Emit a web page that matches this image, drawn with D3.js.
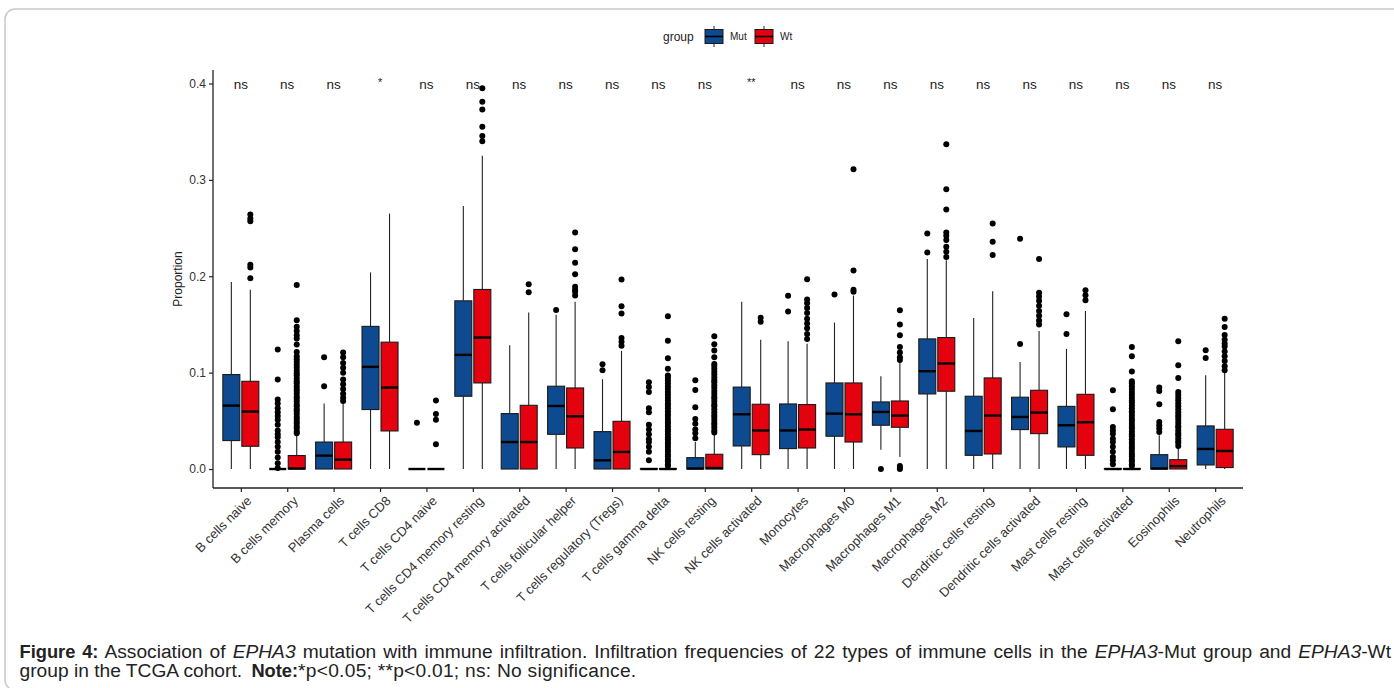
<!DOCTYPE html>
<html>
<head>
<meta charset="utf-8">
<script src="https://cdn.jsdelivr.net/npm/d3@7"></script>
<style>
  body { margin: 0; background: #fff; }
  svg { display: block; font-family: "Liberation Sans", Arial, sans-serif; }
</style>
</head>
<body>
<div id="chart"></div>
<script>
// immune cell types (x axis)
var cells = ["B cells naive", "B cells memory", "Plasma cells", "T cells CD8", "T cells CD4 naive",
  "T cells CD4 memory resting", "T cells CD4 memory activated", "T cells follicular helper",
  "T cells regulatory (Tregs)", "T cells gamma delta", "NK cells resting", "NK cells activated",
  "Monocytes", "Macrophages M0", "Macrophages M1", "Macrophages M2", "Dendritic cells resting",
  "Dendritic cells activated", "Mast cells resting", "Mast cells activated", "Eosinophils", "Neutrophils"];

// significance labels
var sig = ["ns", "ns", "ns", "*", "ns", "ns", "ns", "ns", "ns", "ns", "ns", "**",
  "ns", "ns", "ns", "ns", "ns", "ns", "ns", "ns", "ns", "ns"];

var groups = ["Mut", "Wt"];
var yTicks = [0, 0.1, 0.2, 0.3, 0.4];

// box stats: [lower whisker, q1, median, q3, upper whisker]
var mutStats = [
  [0, 0.0295, 0.0658, 0.098, 0.194],
  [0, 0, 0, 0, 0],
  [0, 0, 0.0139, 0.028, 0.068],
  [0, 0.0617, 0.106, 0.148, 0.204],
  [0, 0, 0, 0, 0],
  [0, 0.0755, 0.1184, 0.1745, 0.273],
  [0, 0, 0.028, 0.0575, 0.1284],
  [0, 0.036, 0.0654, 0.0859, 0.160],
  [0, 0, 0.009, 0.0388, 0.0932],
  [0, 0, 0, 0.0005, 0.001],
  [0, 0, 0.0005, 0.0118, 0.028],
  [0, 0.0239, 0.0568, 0.085, 0.1735],
  [0, 0.0212, 0.040, 0.0675, 0.1326],
  [0, 0.034, 0.0575, 0.0893, 0.152],
  [0.020, 0.0454, 0.0592, 0.0696, 0.0963],
  [0, 0.0779, 0.1015, 0.135, 0.2178],
  [0, 0.0142, 0.0395, 0.0755, 0.1568],
  [0, 0.0409, 0.054, 0.0745, 0.111],
  [0, 0.0229, 0.0454, 0.065, 0.1246],
  [0, 0, 0, 0.0005, 0.001],
  [0, 0, 0.0005, 0.0149, 0.035],
  [0, 0.0042, 0.0208, 0.0447, 0.0973]
];

var wtStats = [
  [0, 0.0236, 0.0596, 0.091, 0.186],
  [0, 0, 0.0005, 0.014, 0.035],
  [0, 0, 0.0097, 0.028, 0.068],
  [0, 0.0395, 0.0845, 0.1316, 0.265],
  [0, 0, 0, 0, 0],
  [0, 0.0893, 0.1364, 0.1863, 0.325],
  [0, 0, 0.028, 0.0661, 0.1624],
  [0, 0.0218, 0.0547, 0.0841, 0.1735],
  [0, 0, 0.0177, 0.0495, 0.1226],
  [0, 0, 0, 0.0005, 0.001],
  [0, 0, 0.001, 0.0153, 0.0367],
  [0, 0.0149, 0.040, 0.0672, 0.134],
  [0, 0.0218, 0.0409, 0.0669, 0.130],
  [0, 0.028, 0.0568, 0.0893, 0.180],
  [0.0125, 0.0433, 0.0554, 0.0706, 0.111],
  [0, 0.0807, 0.1094, 0.1364, 0.2167],
  [0, 0.0156, 0.0554, 0.0945, 0.1845],
  [0, 0.0367, 0.0586, 0.0817, 0.1433],
  [0, 0.0142, 0.0485, 0.0775, 0.164],
  [0, 0, 0, 0.0005, 0.001],
  [0, 0, 0.003, 0.0097, 0.022],
  [0, 0.0015, 0.0187, 0.0412, 0.1007]
];

// outliers
var mutOut = [
  [],
  [0.124, 0.093, 0.072, 0.068, 0.063, 0.059, 0.055, 0.051, 0.046, 0.040, 0.036, 0.033, 0.028, 0.023, 0.018, 0.012, 0.006, 0.001],
  [0.086, 0.116],
  [],
  [0.048],
  [],
  [],
  [0.165],
  [0.1087, 0.1025],
  [0.090, 0.085, 0.080, 0.063, 0.059, 0.046, 0.041, 0.036, 0.031, 0.028, 0.023, 0.018, 0.009],
  [0.032, 0.037, 0.041, 0.047, 0.052, 0.064, 0.082, 0.092],
  [],
  [0.1797, 0.1634],
  [0.181],
  [0.0],
  [0.2444, 0.2247],
  [],
  [0.2389, 0.1298],
  [0.1607, 0.140],
  [0.0817, 0.062, 0.0437, 0.040, 0.0367, 0.0315, 0.028, 0.023, 0.018, 0.0125, 0.009, 0.005],
  [0.0845, 0.081, 0.0672, 0.0488, 0.0454, 0.042, 0.0385],
  [0.1233, 0.1153]
];

var wtOut = [
  [0.264, 0.260, 0.257, 0.212, 0.209, 0.198],
  [0.037, 0.039, 0.042, 0.044, 0.047, 0.049, 0.052, 0.054, 0.057, 0.060, 0.062, 0.065, 0.067, 0.070, 0.073,
   0.075, 0.078, 0.081, 0.083, 0.086, 0.089, 0.091, 0.094, 0.097, 0.099, 0.102, 0.105, 0.108, 0.111, 0.114,
   0.117, 0.1215, 0.1292, 0.1354, 0.1388, 0.1433, 0.1475, 0.1544, 0.191],
  [0.0705, 0.074, 0.078, 0.083, 0.088, 0.093, 0.100, 0.105, 0.110, 0.116, 0.121],
  [],
  [0.071, 0.057, 0.051, 0.0256],
  [0.395, 0.381, 0.373, 0.355, 0.3455, 0.340],
  [0.1918, 0.1835],
  [0.2455, 0.228, 0.214, 0.202, 0.189, 0.186, 0.184, 0.180],
  [0.1966, 0.169, 0.1614, 0.136, 0.132, 0.128],
  [0.003, 0.005, 0.008, 0.010, 0.013, 0.015, 0.018, 0.020, 0.023, 0.026, 0.028, 0.031, 0.033, 0.036, 0.039,
   0.041, 0.044, 0.047, 0.049, 0.052, 0.055, 0.057, 0.060, 0.063, 0.066, 0.068, 0.071, 0.074, 0.077, 0.080,
   0.083, 0.086, 0.089, 0.092, 0.095, 0.097, 0.104, 0.115, 0.133, 0.1586],
  [0.038, 0.040, 0.043, 0.046, 0.048, 0.051, 0.054, 0.056, 0.059, 0.062, 0.065, 0.067, 0.070, 0.073, 0.075,
   0.078, 0.081, 0.084, 0.087, 0.090, 0.092, 0.095, 0.098, 0.101, 0.104, 0.107, 0.109, 0.116, 0.123, 0.1295, 0.1378],
  [0.157, 0.1527],
  [0.197, 0.176, 0.172, 0.167, 0.162, 0.156, 0.151, 0.146, 0.140, 0.135],
  [0.184, 0.186, 0.206, 0.311],
  [0.003, 0.001, 0.0, 0.1648, 0.150, 0.1388, 0.1267, 0.121, 0.116, 0.113],
  [0.337, 0.2904, 0.2693, 0.2455, 0.242, 0.2375, 0.2306, 0.2254, 0.220],
  [0.2548, 0.2357, 0.222],
  [0.2178, 0.183, 0.179, 0.1747, 0.1695, 0.164, 0.159, 0.154, 0.150],
  [0.1856, 0.1804, 0.175],
  [0.003, 0.005, 0.008, 0.010, 0.013, 0.015, 0.018, 0.021, 0.023, 0.026, 0.028, 0.031, 0.034, 0.036, 0.039,
   0.042, 0.044, 0.047, 0.050, 0.052, 0.055, 0.058, 0.060, 0.063, 0.066, 0.069, 0.071, 0.074, 0.077, 0.080,
   0.083, 0.086, 0.089, 0.091, 0.1013, 0.117, 0.1267],
  [0.024, 0.027, 0.029, 0.032, 0.035, 0.037, 0.040, 0.043, 0.045, 0.048, 0.051, 0.054, 0.056, 0.059, 0.062,
   0.065, 0.068, 0.071, 0.074, 0.077, 0.080, 0.0945, 0.1077, 0.1326],
  [0.156, 0.1474, 0.139, 0.134, 0.1303, 0.127, 0.122, 0.117, 0.112, 0.1065, 0.1025]
];

// canvas
var W = 1394, H = 688;
var plot = { left: 213, right: 1243, top: 70, bottom: 488 };
var color = d3.scaleOrdinal().domain(groups).range(["#0d4a8f", "#e3020e"]);

var svg = d3.select("#chart").append("svg")
  .attr("width", W)
  .attr("height", H);

// figure frame
svg.append("rect")
  .attr("x", 5).attr("y", 9)
  .attr("width", W + 20).attr("height", 681)
  .attr("rx", 10)
  .attr("fill", "none")
  .attr("stroke", "#c9c9c9")
  .attr("stroke-width", 1.5);

var x = d3.scalePoint()
  .domain(cells)
  .range([plot.left, plot.right])
  .padding(0.6);

var y = d3.scaleLinear()
  .domain([-0.0197, 0.414])
  .range([plot.bottom, plot.top]);

var dodge = { Mut: -9.5, Wt: 9.5 };
var boxW = 17;

// axes
var yAxis = svg.append("g")
  .attr("transform", "translate(" + plot.left + ",0)")
  .call(d3.axisLeft(y).tickValues(yTicks).tickFormat(d3.format(".1f")).tickSize(4).tickPadding(3));
var xAxis = svg.append("g")
  .attr("transform", "translate(0," + plot.bottom + ")")
  .call(d3.axisBottom(x).tickSize(4).tickFormat(""));

[yAxis, xAxis].forEach(function(a) {
  a.select(".domain").attr("stroke", "#222").attr("stroke-width", 1.3);
  a.selectAll(".tick line").attr("stroke", "#222").attr("stroke-width", 1.2);
});
yAxis.select(".domain").attr("d", "M0," + plot.top + "V" + plot.bottom);
xAxis.select(".domain").attr("d", "M" + plot.left + ",0H" + plot.right);
yAxis.selectAll(".tick text")
  .attr("font-size", 12)
  .attr("fill", "#333")
  .attr("font-family", "Liberation Sans, Arial, sans-serif");

// x labels
svg.append("g").selectAll("text")
  .data(cells)
  .enter().append("text")
  .attr("transform", function(d) { return "translate(" + (x(d) + 5) + "," + (plot.bottom + 7) + ") rotate(-45)"; })
  .attr("text-anchor", "end")
  .attr("dy", "0.71em")
  .attr("font-size", 13)
  .attr("fill", "#333")
  .text(function(d) { return d; });

// y title
svg.append("text")
  .attr("transform", "translate(182," + ((plot.top + plot.bottom) / 2) + ") rotate(-90)")
  .attr("text-anchor", "middle")
  .attr("font-size", 12)
  .attr("fill", "#222")
  .text("Proportion");

// build box data
var boxes = [];
cells.forEach(function(c, i) {
  boxes.push({ cell: c, group: "Mut", s: mutStats[i], out: mutOut[i] });
  boxes.push({ cell: c, group: "Wt", s: wtStats[i], out: wtOut[i] });
});

var bx = function(d) { return x(d.cell) + dodge[d.group]; };

var g = svg.append("g").selectAll(".box")
  .data(boxes)
  .enter().append("g")
  .attr("class", "box");

// whiskers
g.append("line")
  .attr("x1", bx).attr("x2", bx)
  .attr("y1", function(d) { return y(d.s[4]); })
  .attr("y2", function(d) { return y(d.s[3]); })
  .attr("stroke", "#222").attr("stroke-width", 1.1);
g.append("line")
  .attr("x1", bx).attr("x2", bx)
  .attr("y1", function(d) { return y(d.s[1]); })
  .attr("y2", function(d) { return y(d.s[0]); })
  .attr("stroke", "#222").attr("stroke-width", 1.1);

// boxes
g.append("rect")
  .attr("x", function(d) { return bx(d) - boxW / 2; })
  .attr("width", boxW)
  .attr("y", function(d) { return y(d.s[3]); })
  .attr("height", function(d) { return y(d.s[1]) - y(d.s[3]); })
  .attr("fill", function(d) { return color(d.group); })
  .attr("stroke", "#1a1a1a")
  .attr("stroke-width", 1.1);

// medians
g.append("line")
  .attr("x1", function(d) { return bx(d) - boxW / 2; })
  .attr("x2", function(d) { return bx(d) + boxW / 2; })
  .attr("y1", function(d) { return y(d.s[2]); })
  .attr("y2", function(d) { return y(d.s[2]); })
  .attr("stroke", "#000").attr("stroke-width", 2.4);

// outliers
g.selectAll("circle")
  .data(function(d) { return d.out.map(function(v) { return { v: v, px: bx(d) }; }); })
  .enter().append("circle")
  .attr("cx", function(d) { return d.px; })
  .attr("cy", function(d) { return y(d.v); })
  .attr("r", 3)
  .attr("fill", "#000");

// significance labels
svg.append("g").selectAll("text")
  .data(cells)
  .enter().append("text")
  .attr("x", function(d) { return x(d); })
  .attr("y", function(d, i) { return sig[i] === "ns" ? 89 : 86; })
  .attr("text-anchor", "middle")
  .attr("font-size", function(d, i) { return sig[i] === "ns" ? 13.5 : 11; })
  .attr("fill", "#222")
  .text(function(d, i) { return sig[i]; });

// legend
var lg = svg.append("g");
lg.append("text")
  .attr("x", 663).attr("y", 41)
  .attr("font-size", 12)
  .attr("fill", "#222")
  .text("group");
var keyX = { Mut: 705, Wt: 755 };
groups.forEach(function(gr) {
  var kx = keyX[gr];
  lg.append("line")
    .attr("x1", kx + 9).attr("x2", kx + 9)
    .attr("y1", 26).attr("y2", 47)
    .attr("stroke", "#222").attr("stroke-width", 1);
  lg.append("rect")
    .attr("x", kx).attr("y", 29.5)
    .attr("width", 18).attr("height", 14)
    .attr("fill", color(gr))
    .attr("stroke", "#1a1a1a").attr("stroke-width", 1);
  lg.append("line")
    .attr("x1", kx).attr("x2", kx + 18)
    .attr("y1", 36.5).attr("y2", 36.5)
    .attr("stroke", "#000").attr("stroke-width", 1.6);
  lg.append("text")
    .attr("x", kx + 25).attr("y", 40)
    .attr("font-size", 10)
    .attr("fill", "#222")
    .text(gr);
});

// caption
var cap = svg.append("g")
  .attr("font-size", 19.2)
  .attr("fill", "#222");

var line1 = cap.append("text").attr("x", 19.5).attr("y", 657.5);
[["Figure 4:", "bold"], [" Association of ", ""], ["EPHA3", "italic"],
 [" mutation with immune infiltration. Infiltration frequencies of 22 types of immune cells in the ", ""],
 ["EPHA3", "italic"], ["-Mut group and ", ""], ["EPHA3", "italic"], ["-Wt", ""]].forEach(function(p) {
  var t = line1.append("tspan").text(p[0]);
  if (p[1] === "bold") t.attr("font-weight", "bold").attr("font-size", 18.3);
  if (p[1] === "italic") t.attr("font-style", "italic");
});
// justify first line to the right edge
var natural = line1.node().getComputedTextLength();
var spaces = line1.text().split(" ").length - 1;
line1.attr("word-spacing", ((1391 - 19.5) - natural) / spaces);

var line2 = cap.append("text").attr("x", 19.5).attr("y", 677);
line2.append("tspan").text("group in the TCGA cohort. ");
line2.append("tspan").attr("font-weight", "bold").attr("font-size", 18.3).attr("dx", 4).text("Note:");
line2.append("tspan").attr("letter-spacing", 0.25).text("*p<0.05; **p<0.01; ns: No significance.");
</script>
</body>
</html>
